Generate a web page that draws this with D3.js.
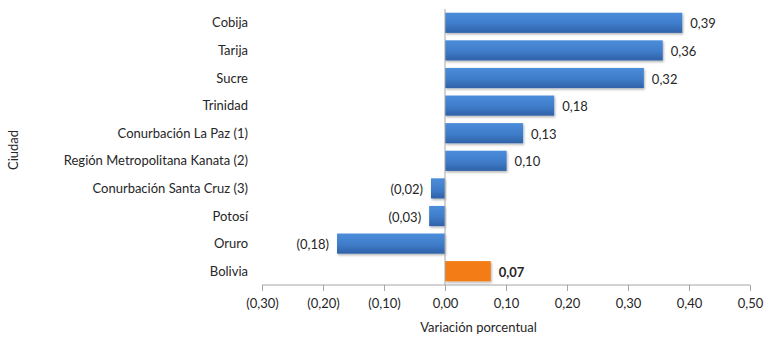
<!DOCTYPE html>
<meta charset="utf-8">
<style>
body { margin: 0; background: #fff; }
text { font-family: Lato, "Open Sans", sans-serif; fill: #262626; }
.axis path, .axis line { stroke: #a6a6a6; }
</style>
<svg width="780" height="339"></svg>
<script src="https://d3js.org/d3.v7.min.js"></script>
<script>

var cities = ["Cobija", "Tarija", "Sucre", "Trinidad", "Conurbación La Paz (1)",
  "Región Metropolitana Kanata (2)", "Conurbación Santa Cruz (3)", "Potosí", "Oruro", "Bolivia"];
var values = [0.39, 0.36, 0.32, 0.18, 0.13, 0.10, -0.02, -0.03, -0.18, 0.07];
var barEnds = [0.389, 0.357, 0.326, 0.179, 0.128, 0.101, -0.023, -0.026, -0.177, 0.075];
var xTicks = [-0.3, -0.2, -0.1, 0, 0.1, 0.2, 0.3, 0.4, 0.5];

var svg = d3.select("svg"),
    margin = {top: 9, right: 30, bottom: 54, left: 262},
    width = +svg.attr("width") - margin.left - margin.right,
    height = +svg.attr("height") - margin.top - margin.bottom;

var fmt = function(v) {
  var s = d3.format(".2f")(Math.abs(v)).replace(".", ",");
  return v < 0 ? "(" + s + ")" : s;
};

var x = d3.scaleLinear().domain([-0.3, 0.5]).range([0, width]),
    y = d3.scaleBand().domain(cities).range([0, height]).paddingInner(0.27).paddingOuter(0.135);

var defs = svg.append("defs");
var grad = defs.append("linearGradient").attr("id", "blue").attr("x1", 0).attr("y1", 0).attr("x2", 0).attr("y2", 1);
grad.append("stop").attr("offset", "0%").attr("stop-color", "#4b8ddb");
grad.append("stop").attr("offset", "55%").attr("stop-color", "#3f7cc9");
grad.append("stop").attr("offset", "100%").attr("stop-color", "#2f62a8");
var filt = defs.append("filter").attr("id", "shadow").attr("x", "-5%").attr("y", "-20%").attr("width", "115%").attr("height", "160%");
filt.append("feDropShadow").attr("dx", 1).attr("dy", 1.5).attr("stdDeviation", 1).attr("flood-color", "#000").attr("flood-opacity", 0.3);

var g = svg.append("g")
    .attr("transform", "translate(" + margin.left + "," + margin.top + ")");

g.append("g")
    .attr("class", "axis")
    .attr("transform", "translate(0," + height + ")")
    .call(d3.axisBottom(x).tickValues(xTicks).tickSize(6).tickPadding(8).tickFormat(fmt))
    .call(function(a) {
      a.select(".domain").attr("d", "M0,0H" + width);
      a.selectAll("text").style("font-size", "13px").attr("fill", "#262626");
    });

g.selectAll(".bar")
  .data(cities)
  .enter().append("rect")
    .attr("class", "bar")
    .attr("x", function(d, i) { return x(Math.min(0, barEnds[i])); })
    .attr("y", function(d) { return y(d); })
    .attr("width", function(d, i) { return Math.abs(x(barEnds[i]) - x(0)); })
    .attr("height", y.bandwidth())
    .attr("fill", function(d) { return d === "Bolivia" ? "#f47b12" : "url(#blue)"; })
    .attr("filter", "url(#shadow)");

// vertical category axis at zero
g.append("line")
    .attr("x1", x(0)).attr("x2", x(0))
    .attr("y1", 0).attr("y2", height)
    .attr("stroke", "#a6a6a6");

g.selectAll(".cat")
  .data(cities)
  .enter().append("text")
    .attr("x", -14)
    .attr("y", function(d) { return y(d) + y.bandwidth() / 2; })
    .attr("dy", "0.35em")
    .attr("text-anchor", "end")
    .style("font-size", "13px")
    .text(function(d) { return d; });

g.selectAll(".lbl")
  .data(cities)
  .enter().append("text")
    .attr("x", function(d, i) { return values[i] < 0 ? x(barEnds[i]) - 8 : x(barEnds[i]) + 8; })
    .attr("y", function(d) { return y(d) + y.bandwidth() / 2 + 1; })
    .attr("dy", "0.35em")
    .attr("text-anchor", function(d, i) { return values[i] < 0 ? "end" : "start"; })
    .style("font-size", "13px")
    .attr("font-weight", function(d) { return d === "Bolivia" ? "bold" : null; })
    .text(function(d, i) { return fmt(values[i]); });

svg.append("text")
    .attr("x", margin.left + x(0.055))
    .attr("y", 332)
    .attr("text-anchor", "middle")
    .style("font-size", "13px")
    .text("Variación porcentual");

svg.append("text")
    .attr("transform", "translate(18,150) rotate(-90)")
    .attr("text-anchor", "middle")
    .style("font-size", "13px")
    .text("Ciudad");

</script>
